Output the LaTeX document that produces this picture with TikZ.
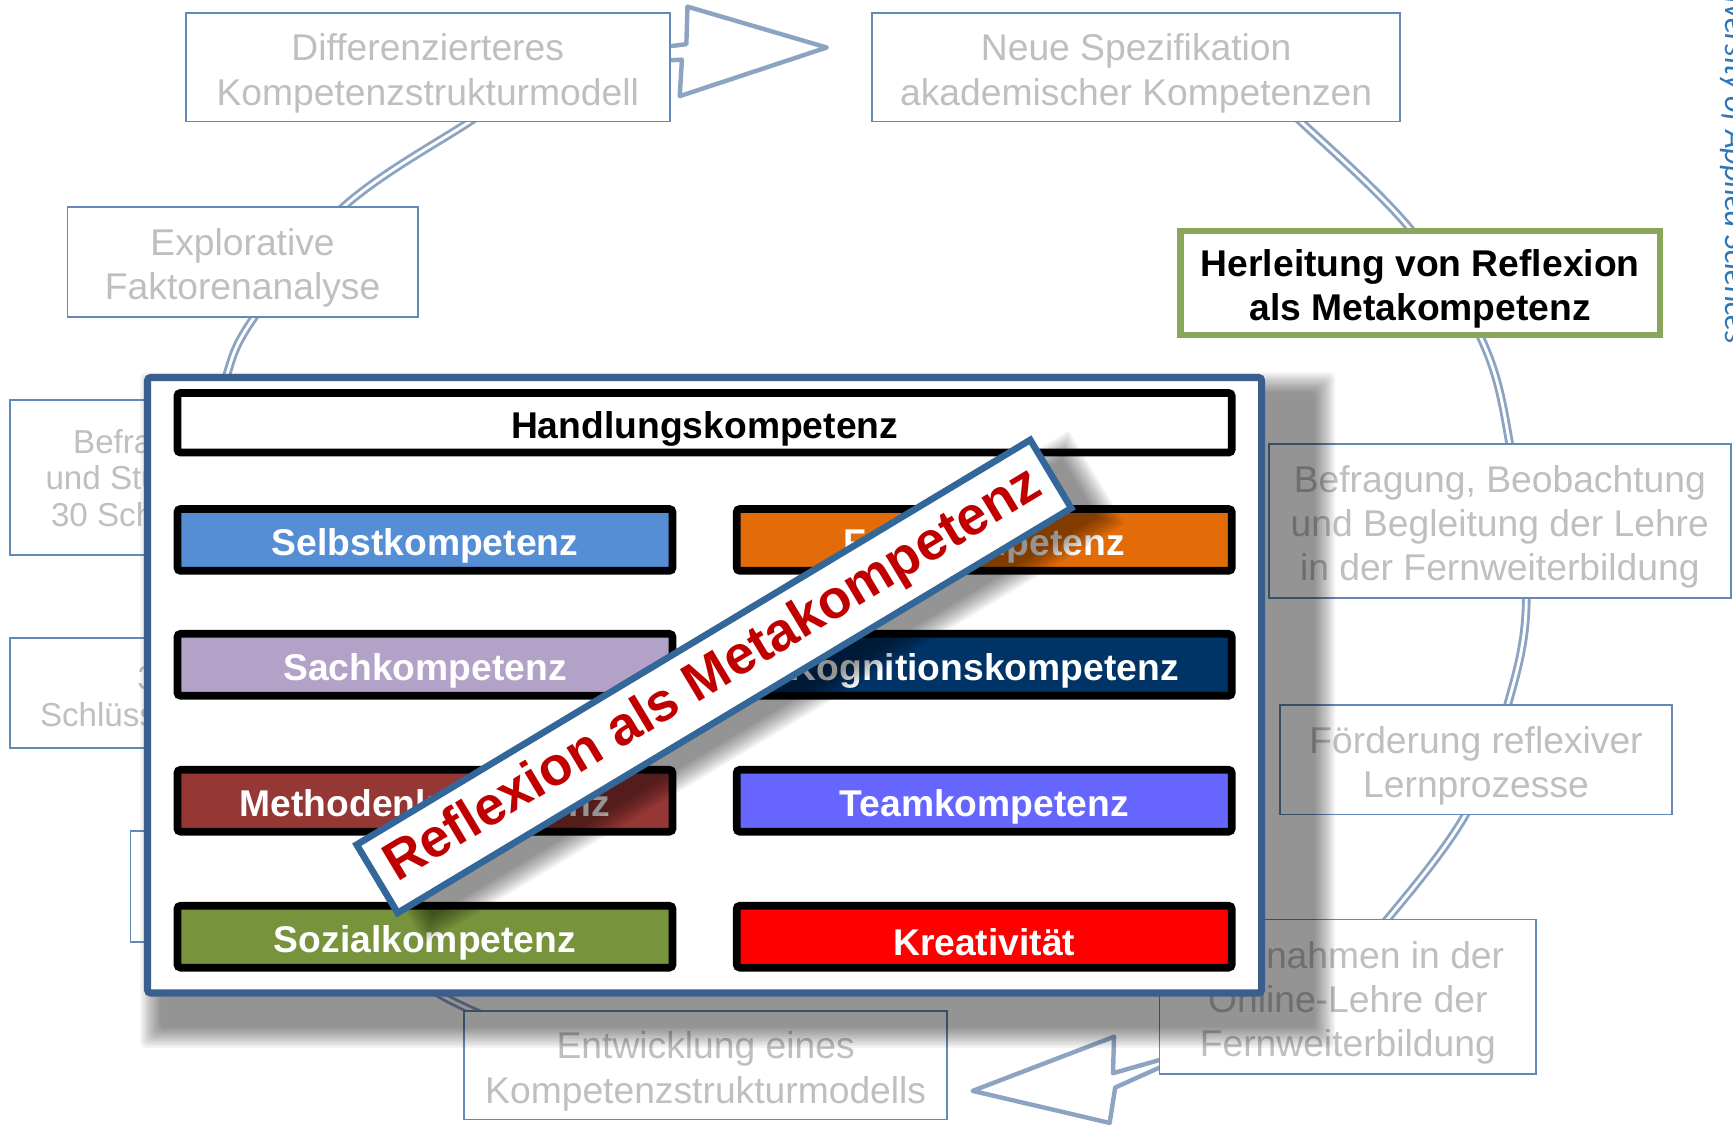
\documentclass[tikz,border=0pt]{standalone}
\usepackage{fontspec}
\setmainfont{Liberation Sans}
\newfontfamily\carlfont{Carlito}
\usetikzlibrary{calc}
\newcommand\lowr{\rule{0pt}{35pt}}
\definecolor{greyt}{HTML}{BFBFBF}
\definecolor{boxline}{HTML}{6389B8}
\definecolor{arcc}{HTML}{8CA4C2}
\definecolor{panelblue}{HTML}{3B5F8C}
\definecolor{bannerblue}{HTML}{336699}
\definecolor{bannerred}{HTML}{C00000}
\definecolor{herlgreen}{HTML}{8AA65A}
\definecolor{cSelbst}{HTML}{558ED5}
\definecolor{cFach}{HTML}{E36C09}
\definecolor{cSach}{HTML}{B3A2C7}
\definecolor{cKogn}{HTML}{003366}
\definecolor{cMeth}{HTML}{953735}
\definecolor{cTeam}{HTML}{6666FF}
\definecolor{cSozial}{HTML}{77933C}
\definecolor{cKreat}{HTML}{FF0000}
\definecolor{edgeblue}{HTML}{2E75B6}
\begin{document}
\begin{tikzpicture}[x=1pt,y=-1pt,
  lowertext/.style={execute at begin node={\lowr}},
  gbox/.style={draw=boxline, line width=1.6pt, fill=white, text=greyt,
    font=\fontsize{33.7}{40}\selectfont, align=center, inner sep=0pt},
  gtext/.style={text=greyt, font=\fontsize{30}{33}\selectfont, inner sep=0pt, anchor=base west},
  bar/.style={draw=black, line width=7pt, rounded corners=3pt, text=white,
    font=\bfseries\fontsize{33.7}{40}\selectfont, minimum width=448pt,
    minimum height=56pt, inner sep=0pt, lowertext},
  dbl/.style={draw=arcc, line width=2.6pt, double=white, double distance=2.6pt},
  blockarrow/.style={draw=arcc, line width=4pt, fill=white, line join=round},
  shadowstep/.style={fill=black, fill opacity=0.05}
]
\clip (0,0) rectangle (1568,1017);
\fill[white] (0,0) rectangle (1568,1017);

% ---- cycle connectors (double lines) ----
\coordinate (rA) at (1150,88);
\coordinate (rB) at (1228,856);
\draw[dbl] plot[smooth, tension=0.6] coordinates {(rA) (1177,110) (1275,206) (1340,306) (1366,402) (1381,541) (1364,638) (1326,737) (1255,832) (rB)};
\coordinate (lA) at (455,90);
\coordinate (lB) at (195,400);
\draw[dbl] plot[smooth, tension=0.6] coordinates {(lA) (425,110) (311,187) (230,287) (205,340) (lB)};
\coordinate (bA) at (360,875);
\coordinate (bB) at (440,920);
\draw[dbl] plot[smooth, tension=0.6] coordinates {(bA) (402,902) (bB)};

% ---- block arrows ----
\draw[blockarrow] (596,43) -- (621,40) -- (622,6) -- (748,43) -- (615,87) -- (617,54) -- (596,55) -- cycle;
\draw[blockarrow] (1060,956) -- (1007,971) -- (1008,938) -- (880,987) -- (1004,1016) -- (1009,984) -- (1060,961) -- cycle;

% ---- outer boxes ----
\node[gbox, minimum width=438pt, minimum height=98pt] (diff) at (387,61) {\lowr Differenzierteres\\Kompetenzstrukturmodell};
\node[gbox, minimum width=478pt, minimum height=98pt] (neue) at (1028,61) {\lowr Neue Spezifikation\\akademischer Kompetenzen};
\node[gbox, minimum width=317pt, minimum height=100pt] (expl) at (219.5,237) {\lowr Explorative\\Faktorenanalyse};
\node[draw=herlgreen, line width=6pt, fill=white, minimum width=434pt, minimum height=94pt,
  align=center, inner sep=0pt, font=\bfseries\fontsize{33.7}{40}\selectfont] (herl) at (1285,256) {\lowr Herleitung von Reflexion\\als Metakompetenz};
\node[gbox, minimum width=418pt, minimum height=139pt] (befr) at (1357,471.5) {\lowr Befragung, Beobachtung\\und Begleitung der Lehre\\in der Fernweiterbildung};
\node[gbox, minimum width=355pt, minimum height=99pt] (foerd) at (1335.5,687.5) {\lowr Förderung reflexiver\\Lernprozesse};
\node[gbox, minimum width=341pt, minimum height=140pt] (mass) at (1219.5,902) {\lowr Maßnahmen in der\\Online-Lehre der\\Fernweiterbildung};
\node[gbox, minimum width=437pt, minimum height=98pt] (entw) at (638.5,964) {\lowr Entwicklung eines\\Kompetenzstrukturmodells};
\node[gbox, minimum width=420pt, minimum height=140pt] (lb1) at (219,432) {};
\node[gtext] (lt1) at (66,410) {Befragung von};
\node[gtext] (lt2) at (41,443) {und Studierenden};
\node[gtext] (lt3) at (46,476) {30 Schulen};
\node[gbox, minimum width=420pt, minimum height=100pt] (lb2) at (219,627) {};
\node[gtext] (lt4) at (124,624) {30};
\node[gtext] (lt5) at (36,657) {Schlüsselkompetenzen};
\node[gbox, minimum width=382pt, minimum height=100pt] (lb3) at (309,802) {};

% ---- panel shadow ----
\foreach \i in {0,...,9}
  \fill[shadowstep, rounded corners=4pt] (127+2*\i,337+2*\i) rectangle (1208-2*\i,948-2*\i);

% ---- panel ----
\node[draw=panelblue, line width=6.5pt, fill=white, rounded corners=3pt,
  minimum width=1008pt, minimum height=557pt, inner sep=0pt] (panel) at (637.5,620) {};

\node[bar, fill=white, text=black, minimum width=954pt, minimum height=54pt] (hand) at (637.5,382.5) {Handlungskompetenz};
\node[bar, fill=cSelbst] (selbst) at (384.5,488.5) {Selbstkompetenz};
\node[bar, fill=cFach] (fach) at (890.5,488.5) {Fachkompetenz};
\node[bar, fill=cSach] (sach) at (384.5,601.5) {Sachkompetenz};
\node[bar, fill=cKogn] (kogn) at (890.5,601.5) {Kognitionskompetenz};
\node[bar, fill=cMeth] (meth) at (384.5,724.5) {Methodenkompetenz};
\node[bar, fill=cTeam] (team) at (890.5,724.5) {Teamkompetenz};
\node[bar, fill=cSozial] (sozial) at (384.5,847.5) {Sozialkompetenz};
\node[bar, fill=cKreat] (kreat) at (890.5,847.5) {Kreativität};

% ---- banner shadow ----
\begin{scope}[shift={(676,622)}, rotate=31]
  \foreach \i in {0,...,9}
    \fill[shadowstep] (-369+2*\i,-49+2*\i) rectangle (369-2*\i,49-2*\i);
\end{scope}

% ---- banner ----
\node[draw=bannerblue, line width=6pt, fill=white, rotate=31, minimum width=711pt,
  minimum height=72pt, inner sep=0pt, text=bannerred,
  font=\bfseries\fontsize{49}{58}\selectfont] (banner) at (646,612) {Reflexion als Metakompetenz};

% ---- edge text ----
\node[rotate=-90, anchor=base east, text=edgeblue, inner sep=0pt,
  font=\carlfont\itshape\fontsize{29}{33}\selectfont] (edge) at (1561,311) {University of Applied Sciences};
\end{tikzpicture}
\end{document}
